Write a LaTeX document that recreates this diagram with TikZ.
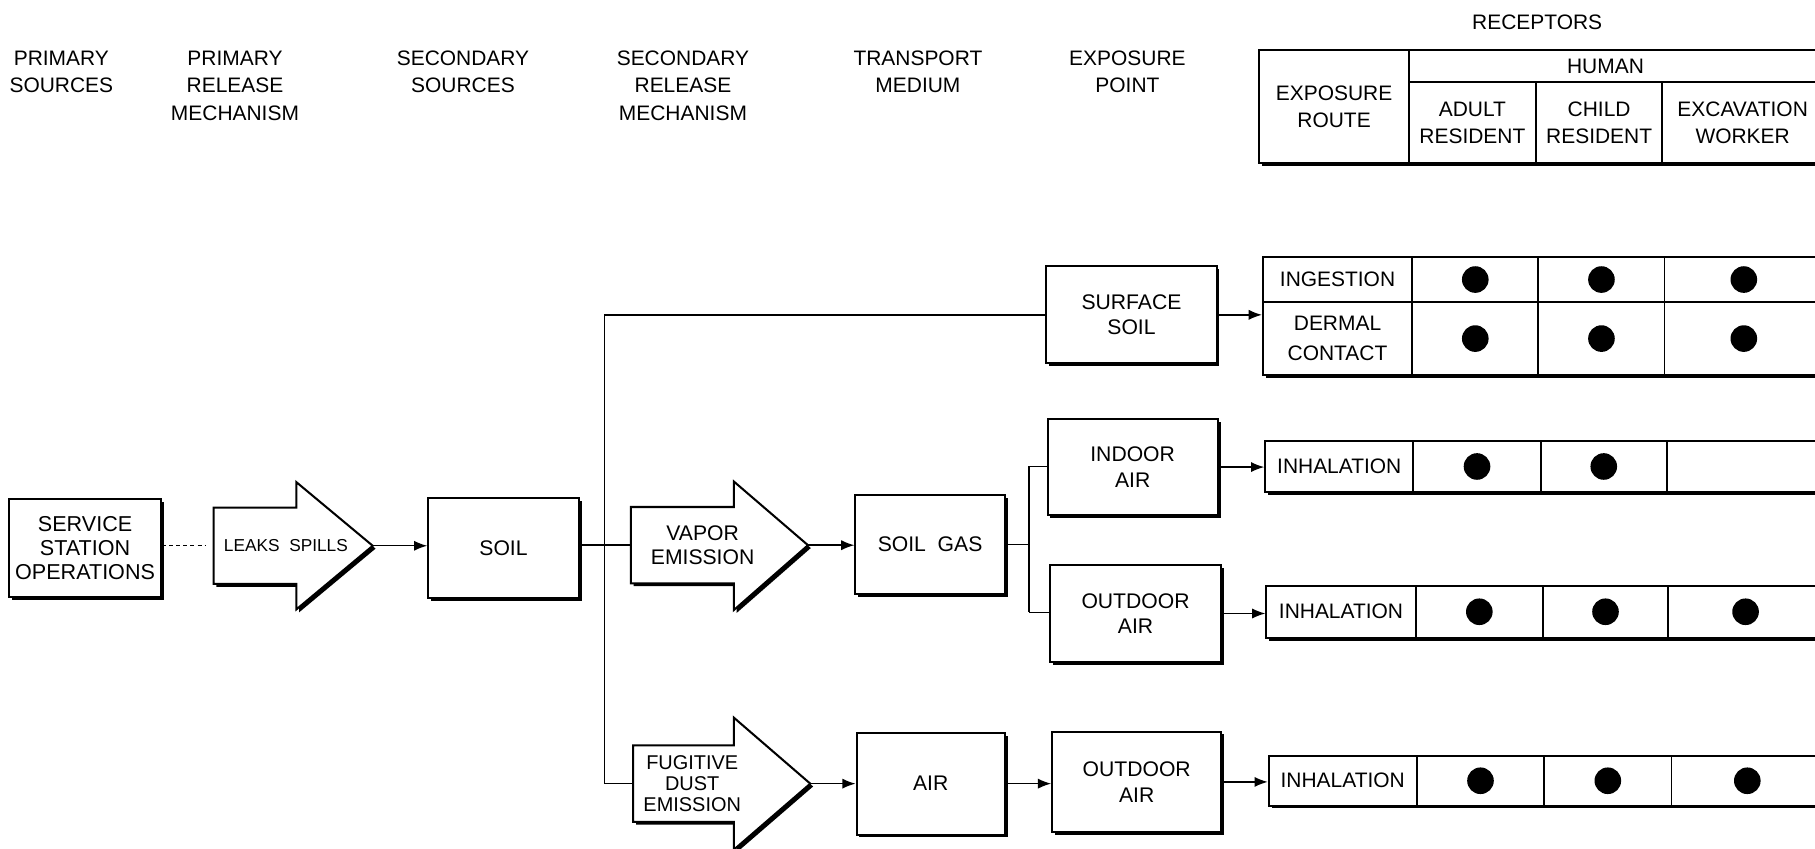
\documentclass[tikz,border=0pt]{standalone}
\usepackage{fontspec}
\setmainfont{Liberation Sans}
\usetikzlibrary{shadows,arrows.meta}
\begin{document}
\begin{tikzpicture}[x=0.02cm,y=-0.02cm,
  shad/.style={drop shadow={shadow xshift=1.4pt,shadow yshift=-1.4pt,fill=black,opacity=1}},
  sz/.style 2 args={minimum width=#1*0.02cm,minimum height=#2*0.02cm},
  box/.style={draw,line width=1pt,fill=white,inner sep=0pt,align=center,shad,font=\fontsize{10.4}{12.5}\selectfont},
  cell/.style={draw,line width=0.9pt,fill=white,inner sep=0pt,align=center,shad,font=\fontsize{10.3}{13.4}\selectfont},
  hdr/.style={inner sep=0pt,align=center,font=\fontsize{10.3}{13.4}\selectfont},
  albl/.style={inner sep=0pt,align=center},
  bigarrow/.style={draw,line width=1pt,fill=white,shad},
  conn/.style={line width=0.7pt,-{Latex[length=6.5pt,width=5pt]}},
  link/.style={line width=0.7pt},
  dot/.style={circle,fill=black,minimum size=0.46cm,inner sep=0pt},
]
\useasboundingbox (0,0) rectangle (1568,733);
\clip (0,0) rectangle (1568,733);

% column headers
\node[hdr] (psrc) at (53,62) {PRIMARY\\SOURCES};
\node[hdr] (prel) at (203,74) {PRIMARY\\RELEASE\\MECHANISM};
\node[hdr] (ssrc) at (400,62) {SECONDARY\\SOURCES};
\node[hdr] (srel) at (590,74) {SECONDARY\\RELEASE\\MECHANISM};
\node[hdr] (tmed) at (793,62) {TRANSPORT\\MEDIUM};
\node[hdr] (expt) at (974,62) {EXPOSURE\\POINT};
\node[hdr] (rec) at (1328,19) {RECEPTORS};

% header table
\node[cell,sz={129}{98}] (hroute) at (1152.5,92) {EXPOSURE\\ROUTE};
\node[cell,sz={358}{28}] (hhuman) at (1396,57) {};
\node[hdr] (humanlbl) at (1387,57) {HUMAN};
\node[cell,sz={110}{70}] (hadult) at (1272,106) {ADULT\\RESIDENT};
\node[cell,sz={109}{70}] (hchild) at (1381.5,106) {CHILD\\RESIDENT};
\node[cell,sz={139}{70}] (hexc) at (1505.5,106) {EXCAVATION\\WORKER};

% boxes
\node[box,sz={131}{85},font=\fontsize{10.6}{11.8}\selectfont] (svc) at (73.5,473.5) {SERVICE\\STATION\\OPERATIONS};
\node[box,sz={130}{87}] (soil) at (435,473.5) {SOIL};
\node[box,sz={129}{85}] (soilgas) at (803.5,470.5) {SOIL\ \ GAS};
\node[box,sz={147}{84}] (surf) at (977.5,272) {SURFACE\\SOIL};
\node[box,sz={147}{83}] (indoor) at (978.5,403.5) {INDOOR\\AIR};
\node[box,sz={148}{84}] (outdoorA) at (981,530) {OUTDOOR\\AIR};
\node[box,sz={128}{88}] (air) at (804,677) {AIR};
\node[box,sz={146}{87}] (outdoorB) at (982,675.5) {OUTDOOR\\AIR};

% big arrows
\path[bigarrow] (184.5,438.5) -- (256,438.5) -- (256,416.5) -- (322,471.5) -- (256,526.5) -- (256,504.5) -- (184.5,504.5) -- cycle;
\coordinate (leaksW) at (184.5,471.5);
\coordinate (leaksTip) at (322,471.5);
\node[albl,font=\fontsize{8.5}{10}\selectfont] (leakslbl) at (247,471.5) {LEAKS\ \ SPILLS};

\path[bigarrow] (545,438) -- (634,438) -- (634,416) -- (698,471) -- (634,527) -- (634,504) -- (545,504) -- cycle;
\coordinate (vaporW) at (545,471);
\coordinate (vaporTip) at (698,471);
\node[albl,font=\fontsize{10.4}{11.6}\selectfont] (vaporlbl) at (607,471) {VAPOR\\EMISSION};

\path[bigarrow] (547,644) -- (634,644) -- (634,620) -- (700,677) -- (634,734) -- (634,710) -- (547,710) -- cycle;
\coordinate (fugW) at (547,677);
\coordinate (fugTip) at (700,677);
\node[albl,font=\fontsize{9.8}{10.2}\selectfont] (fuglbl) at (598,677) {FUGITIVE\\DUST\\EMISSION};

% table 1: ingestion / dermal
\node[cell,sz={129}{39}] (ing) at (1155.5,241.5) {INGESTION};
\node[cell,sz={109}{39}] (t1a) at (1274.5,241.5) {};
\node[cell,sz={109}{39}] (t1b) at (1383.5,241.5) {};
\node[cell,sz={137}{39}] (t1c) at (1506.5,241.5) {};
\node[cell,sz={129}{63},font=\fontsize{10.3}{14.5}\selectfont] (derm) at (1155.5,292.5) {DERMAL\\CONTACT};
\node[cell,sz={109}{63}] (t1d) at (1274.5,292.5) {};
\node[cell,sz={109}{63}] (t1e) at (1383.5,292.5) {};
\node[cell,sz={137}{63}] (t1f) at (1506.5,292.5) {};
\node[dot] (d1a) at (t1a.center) {};
\node[dot] (d1b) at (t1b.center) {};
\node[dot] (d1c) at (t1c.center) {};
\node[dot] (d1d) at (t1d.center) {};
\node[dot] (d1e) at (t1e.center) {};
\node[dot] (d1f) at (t1f.center) {};

% table 2: indoor inhalation
\node[cell,sz={128}{44}] (inhA) at (1157,403) {INHALATION};
\node[cell,sz={110}{44}] (t2a) at (1276,403) {};
\node[cell,sz={109}{44}] (t2b) at (1385.5,403) {};
\node[cell,sz={135}{44}] (t2c) at (1507.5,403) {};
\node[dot] (d2a) at (t2a.center) {};
\node[dot] (d2b) at (t2b.center) {};

% table 3: outdoor inhalation
\node[cell,sz={129}{45}] (inhB) at (1158.5,528.5) {INHALATION};
\node[cell,sz={110}{45}] (t3a) at (1278,528.5) {};
\node[cell,sz={108}{45}] (t3b) at (1387,528.5) {};
\node[cell,sz={134}{45}] (t3c) at (1508,528.5) {};
\node[dot] (d3a) at (t3a.center) {};
\node[dot] (d3b) at (t3b.center) {};
\node[dot] (d3c) at (t3c.center) {};

% table 4: outdoor (dust) inhalation
\node[cell,sz={128}{43}] (inhC) at (1160,674.5) {INHALATION};
\node[cell,sz={110}{43}] (t4a) at (1279,674.5) {};
\node[cell,sz={110}{43}] (t4b) at (1389,674.5) {};
\node[cell,sz={131}{43}] (t4c) at (1509.5,674.5) {};
\node[dot] (d4a) at (t4a.center) {};
\node[dot] (d4b) at (t4b.center) {};
\node[dot] (d4c) at (t4c.center) {};

% connectors
\draw[line width=0.5pt,dash pattern=on 2pt off 1.5pt,shorten >=4pt] (svc.east |- leaksW) -- (leaksW);
\draw[conn] (leaksTip) -- (leaksTip -| soil.west);
\coordinate (jtop) at (522,272);
\coordinate (jbot) at (522,677);
\draw[link] (soil.east |- vaporW) -- (vaporW);
\draw[link] (jtop) -- (jbot);
\draw[link] (jtop) -- (jtop -| surf.west);
\draw[link] (jbot) -- (fugW);
\draw[conn] (vaporTip) -- (vaporTip -| soilgas.west);
\coordinate (sgT) at (889,403);
\coordinate (sgB) at (889,529);
\draw[link] (soilgas.east) -- (soilgas.east -| sgT);
\draw[link] (sgT) -- (sgB);
\draw[link] (sgT) -- (sgT -| indoor.west);
\draw[link] (sgB) -- (sgB -| outdoorA.west);
\draw[conn] (surf.east) -- (surf.east -| ing.west);
\draw[conn] (indoor.east) -- (indoor.east -| inhA.west);
\draw[conn] (outdoorA.east) -- (outdoorA.east -| inhB.west);
\draw[conn] (fugTip) -- (fugTip -| air.west);
\draw[conn] (air.east) -- (air.east -| outdoorB.west);
\draw[conn] (outdoorB.east) -- (outdoorB.east -| inhC.west);
\end{tikzpicture}
\end{document}
